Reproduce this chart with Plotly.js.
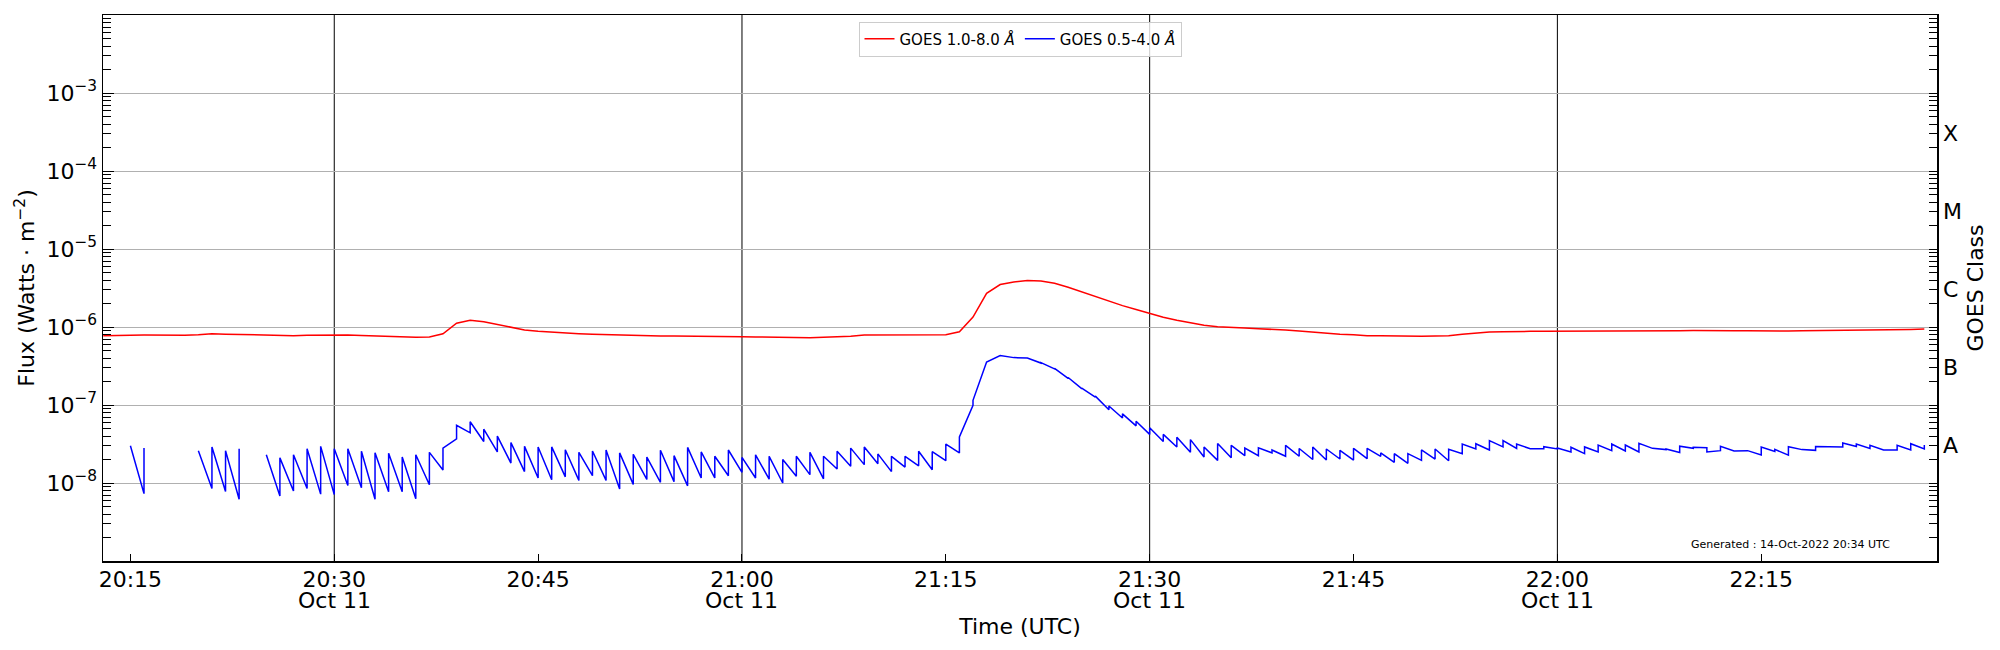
<!DOCTYPE html>
<html>
<head>
<meta charset="utf-8">
<script src="https://cdn.plot.ly/plotly-3.0.1.min.js"></script>
<style>
  html, body { margin: 0; padding: 0; background: #fff; }
  #plot { width: 2000px; height: 650px; }
</style>
</head>
<body>
<div id="plot"></div>
<script>
// GOES XRS flux, 11 Oct 2022, one sample per minute
var day = '2022-10-11 ';

var minutes = [
  '20:13','20:14','20:15','20:16','20:17','20:18','20:19',
  '20:20','20:21','20:22','20:23','20:24','20:25','20:26','20:27','20:28','20:29',
  '20:30','20:31','20:32','20:33','20:34','20:35','20:36','20:37','20:38','20:39',
  '20:40','20:41','20:42','20:43','20:44','20:45','20:46','20:47','20:48','20:49',
  '20:50','20:51','20:52','20:53','20:54','20:55','20:56','20:57','20:58','20:59',
  '21:00','21:01','21:02','21:03','21:04','21:05','21:06','21:07','21:08','21:09',
  '21:10','21:11','21:12','21:13','21:14','21:15','21:16','21:17','21:18','21:19',
  '21:20','21:21','21:22','21:23','21:24','21:25','21:26','21:27','21:28','21:29',
  '21:30','21:31','21:32','21:33','21:34','21:35','21:36','21:37','21:38','21:39',
  '21:40','21:41','21:42','21:43','21:44','21:45','21:46','21:47','21:48','21:49',
  '21:50','21:51','21:52','21:53','21:54','21:55','21:56','21:57','21:58','21:59',
  '22:00','22:01','22:02','22:03','22:04','22:05','22:06','22:07','22:08','22:09',
  '22:10','22:11','22:12','22:13','22:14','22:15','22:16','22:17','22:18','22:19',
  '22:20','22:21','22:22','22:23','22:24','22:25','22:26','22:27'
];

// 1.0-8.0 A channel
var longFlux = [
  7.7e-7, 7.85e-7, 7.85e-7, 7.9e-7, 7.85e-7, 7.85e-7, 7.85e-7,
  7.97e-7, 8.2e-7, 8.1e-7, 8.0e-7, 7.9e-7, 7.8e-7, 7.7e-7, 7.75e-7, 7.85e-7, 7.9e-7,
  8.0e-7, 7.9e-7, 7.8e-7, 7.7e-7, 7.55e-7, 7.45e-7, 7.37e-7, 7.44e-7, 8.2e-7, 1.12e-6,
  1.22e-6, 1.17e-6, 1.08e-6, 9.8e-7, 9.15e-7, 8.8e-7, 8.55e-7, 8.4e-7, 8.2e-7, 8.05e-7,
  7.97e-7, 7.8e-7, 7.8e-7, 7.74e-7, 7.66e-7, 7.66e-7, 7.66e-7, 7.6e-7, 7.55e-7, 7.5e-7,
  7.5e-7, 7.44e-7, 7.37e-7, 7.3e-7, 7.3e-7, 7.3e-7, 7.37e-7, 7.44e-7, 7.6e-7, 7.9e-7,
  7.9e-7, 7.8e-7, 7.8e-7, 7.8e-7, 7.9e-7, 7.97e-7, 8.7e-7, 1.34e-6, 2.7e-6, 3.5e-6,
  3.78e-6, 3.96e-6, 3.9e-6, 3.63e-6, 3.23e-6, 2.81e-6, 2.45e-6, 2.13e-6, 1.88e-6, 1.68e-6,
  1.5e-6, 1.33e-6, 1.22e-6, 1.12e-6, 1.05e-6, 1.01e-6, 9.8e-7, 9.7e-7, 9.5e-7, 9.4e-7,
  9.15e-7, 8.9e-7, 8.6e-7, 8.3e-7, 8.1e-7, 7.97e-7, 7.74e-7, 7.74e-7, 7.66e-7, 7.6e-7,
  7.6e-7, 7.66e-7, 7.74e-7, 8.05e-7, 8.4e-7, 8.6e-7, 8.7e-7, 8.8e-7, 8.8e-7, 8.8e-7,
  8.8e-7, 8.8e-7, 8.9e-7, 8.9e-7, 8.9e-7, 8.97e-7, 8.9e-7, 8.9e-7, 8.95e-7, 8.97e-7,
  9.0e-7, 9.05e-7, 9.0e-7, 8.97e-7, 8.95e-7, 8.9e-7, 8.8e-7, 8.9e-7, 8.95e-7, 8.97e-7,
  9.0e-7, 9.05e-7, 9.2e-7, 9.15e-7, 9.15e-7, 9.2e-7, 9.3e-7, 9.4e-7
];

// 0.5-4.0 A channel: value reached at each minute, then value right after the step
var shortLow = [
  null, null, null, 7.3e-9, null, null, null,
  null, 8.5e-9, 7.8e-9, 6.2e-9, null, null, 6.8e-9, 7.9e-9, 8.5e-9, 7.2e-9,
  7.1e-9, 9.3e-9, 8.7e-9, 6.2e-9, 7.7e-9, 7.7e-9, 6.3e-9, 9.5e-9, 1.47e-8, 3.67e-8,
  4.4e-8, 3.4e-8, 2.5e-8, 1.8e-8, 1.4e-8, 1.16e-8, 1.1e-8, 1.2e-8, 1.08e-8, 1.24e-8,
  1.08e-8, 8.4e-9, 9.6e-9, 1.11e-8, 1.02e-8, 1.04e-8, 9.2e-9, 1.16e-8, 1.16e-8, 1.24e-8,
  1.37e-8, 1.16e-8, 1.12e-8, 1.0e-8, 1.22e-8, 1.28e-8, 1.13e-8, 1.51e-8, 1.64e-8, 1.72e-8,
  1.77e-8, 1.4e-8, 1.6e-8, 1.66e-8, 1.48e-8, 1.93e-8, 2.43e-8, 9.9e-8, 3.5e-7, 4.3e-7,
  4.05e-7, 4.0e-7, 3.45e-7, 2.9e-7, 2.2e-7, 1.62e-7, 1.26e-7, 8.7e-8, 6.8e-8, 5.4e-8,
  4.2e-8, 3.4e-8, 2.9e-8, 2.47e-8, 2.15e-8, 1.95e-8, 2.11e-8, 2.24e-8, 2.24e-8, 2.43e-8,
  2.2e-8, 2.2e-8, 2.0e-8, 1.97e-8, 2.03e-8, 1.97e-8, 2.05e-8, 2.2e-8, 1.84e-8, 1.79e-8,
  1.95e-8, 2.03e-8, 1.93e-8, 2.38e-8, 2.73e-8, 2.65e-8, 2.9e-8, 2.78e-8, 2.75e-8, 2.75e-8,
  2.73e-8, 2.5e-8, 2.38e-8, 2.5e-8, 2.6e-8, 2.57e-8, 2.5e-8, 2.78e-8, 2.68e-8, 2.46e-8,
  2.78e-8, 2.84e-8, 2.6e-8, 2.57e-8, 2.6e-8, 2.29e-8, 2.53e-8, 2.27e-8, 2.68e-8, 2.62e-8,
  2.92e-8, 2.9e-8, 2.94e-8, 2.78e-8, 2.65e-8, 2.65e-8, 2.65e-8, 2.73e-8
];
var shortHigh = [
  null, null, 3.0e-8, 2.8e-8, null, null, null,
  2.6e-8, 2.9e-8, 2.6e-8, 2.75e-8, null, 2.3e-8, 2.1e-8, 2.3e-8, 2.75e-8, 2.95e-8,
  2.75e-8, 2.75e-8, 2.55e-8, 2.45e-8, 2.4e-8, 2.15e-8, 2.3e-8, 2.47e-8, 2.8e-8, 5.5e-8,
  6.1e-8, 4.9e-8, 4.0e-8, 3.3e-8, 2.95e-8, 2.9e-8, 2.9e-8, 2.67e-8, 2.47e-8, 2.57e-8,
  2.65e-8, 2.43e-8, 2.33e-8, 2.15e-8, 2.63e-8, 2.24e-8, 2.86e-8, 2.5e-8, 2.2e-8, 2.65e-8,
  2.13e-8, 2.3e-8, 2.2e-8, 2.0e-8, 2.2e-8, 2.47e-8, 2.2e-8, 2.55e-8, 2.8e-8, 2.9e-8,
  2.36e-8, 2.2e-8, 2.2e-8, 2.55e-8, 2.52e-8, 3.16e-8, 3.9e-8, 1.15e-7, 3.55e-7, 4.3e-7,
  4.05e-7, 4.0e-7, 3.5e-7, 2.95e-7, 2.25e-7, 1.65e-7, 1.3e-7, 9.7e-8, 7.7e-8, 6.2e-8,
  5.1e-8, 4.2e-8, 3.85e-8, 3.6e-8, 2.9e-8, 3.2e-8, 3.04e-8, 2.8e-8, 2.82e-8, 2.65e-8,
  3.04e-8, 2.77e-8, 2.9e-8, 2.73e-8, 2.62e-8, 2.78e-8, 2.78e-8, 2.43e-8, 2.38e-8, 2.38e-8,
  2.65e-8, 2.73e-8, 2.7e-8, 3.16e-8, 3.19e-8, 3.49e-8, 3.49e-8, 3.16e-8, 2.75e-8, 2.92e-8,
  2.81e-8, 2.87e-8, 2.9e-8, 3.07e-8, 3.16e-8, 3.07e-8, 3.23e-8, 2.78e-8, 2.73e-8, 2.96e-8,
  2.87e-8, 2.5e-8, 2.96e-8, 2.57e-8, 2.6e-8, 2.9e-8, 2.7e-8, 2.92e-8, 2.68e-8, 2.94e-8,
  2.92e-8, 3.26e-8, 3.16e-8, 3.05e-8, 2.65e-8, 3.05e-8, 3.19e-8, 3.07e-8
];

var tickTimes = ['20:15','20:30','20:45','21:00','21:15','21:30','21:45','22:00','22:15'];
var dateTimes = ['20:30','21:00','21:30','22:00'];   // ticks that carry the date and a black grid line
var dateLabel = 'Oct 11';

var fluxTicks = [1e-8, 1e-7, 1e-6, 1e-5, 1e-4, 1e-3];
var fluxLabels = ['10<sup>−8</sup>','10<sup>−7</sup>','10<sup>−6</sup>',
                  '10<sup>−5</sup>','10<sup>−4</sup>','10<sup>−3</sup>'];

var classVals = [3e-8, 3e-7, 3e-6, 3e-5, 3e-4];
var classLabels = ['A','B','C','M','X'];

var font = 'DejaVu Sans, sans-serif';
var fsize = 22;

var longX = minutes.map(function(m){ return day + m; });

// short channel: each minute gives the decayed value and the stepped value
var shortX = [], shortY = [];
minutes.forEach(function(m, i){
  if (shortLow[i] === null && shortHigh[i] === null) {
    shortX.push(day + m); shortY.push(null);
    return;
  }
  if (shortLow[i] !== null) { shortX.push(day + m); shortY.push(shortLow[i]); }
  if (shortHigh[i] !== null) { shortX.push(day + m); shortY.push(shortHigh[i]); }
});

var traces = [
  {
    x: longX, y: longFlux,
    mode: 'lines', name: 'GOES 1.0-8.0 <i>Å</i>',
    line: {color: '#ff0000', width: 1.5},
    hoverinfo: 'x+y'
  },
  {
    x: shortX, y: shortY,
    mode: 'lines', name: 'GOES 0.5-4.0 <i>Å</i>',
    line: {color: '#0000ff', width: 1.5},
    connectgaps: false,
    hoverinfo: 'x+y'
  },
  // empty trace so the GOES class axis gets drawn
  {x: [], y: [], yaxis: 'y2', mode: 'lines', showlegend: false, hoverinfo: 'skip'}
];

var shapes = dateTimes.map(function(t){
  return {
    type: 'line', xref: 'x', yref: 'paper',
    x0: day + t, x1: day + t, y0: 0, y1: 1,
    line: {color: '#000000', width: 1},
    layer: 'below'
  };
});

var annotations = dateTimes.map(function(t){
  return {
    xref: 'x', yref: 'paper', x: day + t, y: 0,
    xanchor: 'center', yanchor: 'middle', yshift: -39,
    text: dateLabel, showarrow: false,
    font: {family: font, size: fsize, color: '#000000'}
  };
});
annotations.push({
  xref: 'paper', yref: 'paper',
  x: 0.92, y: 0.031, xanchor: 'center', yanchor: 'middle',
  text: 'Generated : 14-Oct-2022 20:34 UTC',
  showarrow: false,
  font: {family: font, size: 11, color: '#000000'}
});

var layout = {
  width: 2000, height: 650,
  margin: {l: 103, r: 63, t: 15, b: 89},
  paper_bgcolor: '#ffffff',
  plot_bgcolor: '#ffffff',
  font: {family: font, size: fsize, color: '#000000'},
  showlegend: true,
  legend: {
    orientation: 'h',
    x: 0.5, xanchor: 'center',
    y: 0.988, yanchor: 'top',
    bgcolor: 'rgba(255,255,255,0.8)',
    bordercolor: '#cccccc', borderwidth: 1,
    font: {family: font, size: 15}
  },
  xaxis: {
    type: 'date',
    range: [day + '20:12:59', day + '22:27:56'],
    tickmode: 'array',
    tickvals: tickTimes.map(function(t){ return day + t; }),
    ticktext: tickTimes,
    ticks: 'inside', ticklen: 7, tickwidth: 1, tickcolor: '#000000',
    ticklabelstandoff: -2,
    showgrid: false, zeroline: false,
    showline: true, linecolor: '#000000', linewidth: 1.5, mirror: true,
    title: {text: 'Time (UTC)', font: {family: font, size: fsize}, standoff: 27}
  },
  yaxis: {
    type: 'log',
    range: [-9, -2],
    tickmode: 'array',
    tickvals: fluxTicks, ticktext: fluxLabels,
    ticks: 'inside', ticklen: 11, tickwidth: 1, tickcolor: '#000000',
    minor: {dtick: 'D1', ticks: 'inside', ticklen: 8, tickwidth: 1, tickcolor: '#000000', showgrid: false},
    showgrid: true, gridcolor: '#b0b0b0', gridwidth: 1,
    zeroline: false,
    showline: true, linecolor: '#000000', linewidth: 1.5,
    title: {text: 'Flux (Watts · m<sup>−2</sup>)', font: {family: font, size: fsize}, standoff: 5}
  },
  yaxis2: {
    type: 'log',
    overlaying: 'y', side: 'right', anchor: 'x',
    range: [-9, -2],
    tickmode: 'array',
    tickvals: classVals, ticktext: classLabels,
    ticks: 'inside', ticklen: 8, tickwidth: 1, tickcolor: '#000000',
    minor: {dtick: 'D1', ticks: 'inside', ticklen: 8, tickwidth: 1, tickcolor: '#000000', showgrid: false},
    showgrid: false, zeroline: false,
    showline: true, linecolor: '#000000', linewidth: 1.5,
    title: {text: 'GOES Class', font: {family: font, size: fsize}, standoff: 6}
  },
  shapes: shapes,
  annotations: annotations
};

Plotly.newPlot('plot', traces, layout, {displayModeBar: false, staticPlot: true});
</script>
</body>
</html>
